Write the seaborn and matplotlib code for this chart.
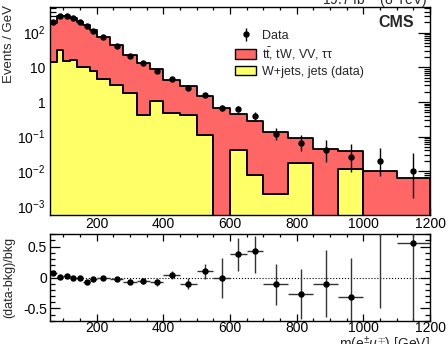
import numpy as np
import pandas as pd
import matplotlib
matplotlib.use("Agg")
import matplotlib.pyplot as plt
import seaborn as sns
from matplotlib.ticker import FixedLocator, MultipleLocator, LogLocator, NullFormatter, FuncFormatter
from matplotlib.patches import Patch

# ---------------- data ----------------
edges = [60, 80, 100, 120, 140, 160, 180, 200, 240, 280, 320, 360, 400, 450,
         500, 550, 600, 650, 700, 775, 850, 925, 1000, 1100, 1200]
# observed events per bin
data_counts = [4140, 6180, 6040, 5180, 4140, 3100, 2280, 2920, 1680, 868, 520, 320,
               225, 130, 80, 34, 31, 20, 9, 5, 3, 2, 2, 1]
data_err_lo = [64, 79, 78, 72, 64, 56, 48, 54, 41, 29.5, 22.8, 17.9, 15, 11.4, 8.9,
               5.8, 5.6, 4.4, 2.9, 2.16, 1.63, 1.29, 1.29, 0.83]
data_err_hi = [65, 79, 78, 73, 65, 56, 48, 55, 42, 30.5, 23.8, 18.9, 16, 12.4, 9.9,
               6.9, 6.6, 5.5, 4.1, 3.38, 2.92, 2.64, 2.64, 2.30]
# total background (events / GeV)
bkg_total = [194, 306, 294, 263, 208, 168, 117.5, 73, 42.7, 23.3, 13.7, 8.7, 4.33,
             2.89, 1.45, 0.684, 0.451, 0.28, 0.134, 0.090, 0.0444, 0.0386, 0.0102, 0.0064]
# W+jets, jets (data) (events / GeV)
wjets = [14.5, 31.6, 15.2, 16.3, 10.4, 10.4, 7.8, 4.5, 3.1, 1.78, 0.41, 1.09, 0.47,
         0.42, 0.112, 0, 0.0412, 0.00785, 0.00218, 0.0177, 0, 0.0117, 0, 0]
ratio_err_lo = [0.02, 0.02, 0.02, 0.02, 0.02, 0.025, 0.03, 0.025, 0.03, 0.04, 0.05,
                0.06, 0.07, 0.09, 0.12, 0.32, 0.27, 0.35, 0.34, 0.41, 0.54, 0.45, 1.45, 1.4]
ratio_err_hi = [0.02, 0.02, 0.02, 0.02, 0.02, 0.025, 0.03, 0.025, 0.03, 0.04, 0.05,
                0.06, 0.07, 0.09, 0.12, 0.32, 0.26, 0.24, 0.32, 0.40, 0.55, 0.62, 2.5, 3.0]

lab_tt = r"t$\mathregular{\bar{t}}$, tW, VV, ττ"
lab_wj = "W+jets, jets (data)"
xlabel = r"m(e$^{\pm}\mu^{\mp}$) [GeV]"
ylabel = "Events / GeV"
rlabel = "(data-bkg)/bkg"

RED = "#ff6666"
YEL = "#ffff66"

# ---------------- derived ----------------
edges_a = np.array(edges, float)
width = np.diff(edges_a)
centers = 0.5 * (edges_a[:-1] + edges_a[1:])
data = np.array(data_counts) / width
d_lo = np.array(data_err_lo) / width
d_hi = np.array(data_err_hi) / width
tot = np.array(bkg_total)
wj = np.array(wjets)
tt = tot - wj
ratio = data / tot - 1

df = pd.DataFrame({
    "m": np.concatenate([centers, centers]),
    "w": np.concatenate([tt, wj]),
    "proc": [lab_tt] * len(centers) + [lab_wj] * len(centers),
})

# ---------------- style ----------------
sns.set_theme(style="ticks")
plt.rcParams["font.family"] = ["Liberation Sans", "DejaVu Sans"]
plt.rcParams["mathtext.fontset"] = "custom"
plt.rcParams["mathtext.rm"] = "Liberation Sans"
plt.rcParams["mathtext.it"] = "Liberation Sans:italic"
plt.rcParams["mathtext.bf"] = "Liberation Sans:bold"
plt.rcParams["axes.linewidth"] = 1.0

fig = plt.figure(figsize=(4.48, 3.44), dpi=100)
ax = fig.add_axes([50 / 448, 1 - 215 / 344, 380 / 448, 207.7 / 344])
ax2 = fig.add_axes([50 / 448, 1 - 320.7 / 344, 380 / 448, 86.4 / 344])

sns.histplot(data=df, x="m", weights="w", hue="proc", hue_order=[lab_tt, lab_wj],
             bins=edges, multiple="stack", element="step", palette={lab_tt: RED, lab_wj: YEL},
             alpha=1, edgecolor="black", linewidth=1.3, legend=False, ax=ax)
ax.set_yscale("log")
eb = ax.errorbar(centers, data, yerr=[d_lo, d_hi], fmt="o", color="black", ms=3.6,
                 elinewidth=1.0, capsize=0, zorder=5)
ax.set_xlim(60, 1200)
ax.set_ylim(5.5e-4, 540)
ax.set_xlabel("")
ax.set_ylabel(ylabel, fontsize=9.5, labelpad=2)
ax.yaxis.set_label_coords(-0.092, 0.823)

ax.yaxis.set_major_locator(FixedLocator([1e-3, 1e-2, 1e-1, 1, 10, 100]))
def yfmt(v, pos):
    e = int(round(np.log10(v)))
    if e == 0:
        return "1"
    if e == 1:
        return "10"
    return r"10$^{%d}$" % e
ax.yaxis.set_major_formatter(FuncFormatter(yfmt))
ax.yaxis.set_minor_locator(LogLocator(base=10, subs=np.arange(2, 10), numticks=30))
ax.yaxis.set_minor_formatter(NullFormatter())
ax.xaxis.set_major_locator(MultipleLocator(200))
ax.xaxis.set_minor_locator(MultipleLocator(50))

for a in (ax, ax2):
    a.tick_params(which="both", direction="in", top=True, right=True, colors="black",
                  labelsize=10, width=0.9)
    a.tick_params(axis="x", which="major", length=5, pad=1.2)
    a.tick_params(axis="x", which="minor", length=2.5)
    for s in a.spines.values():
        s.set_color("black")
        s.set_linewidth(1.0)
ax.tick_params(axis="y", which="major", length=8.5, pad=3.5)
ax.tick_params(axis="y", which="minor", length=4.5)

# legend
handles = [eb, Patch(facecolor=RED, edgecolor="black", linewidth=1.0),
           Patch(facecolor=YEL, edgecolor="black", linewidth=1.0)]
ax.legend(handles, ["Data", lab_tt, lab_wj], loc="upper left",
          bbox_to_anchor=(0.487, 0.892), frameon=False, fontsize=9,
          handlelength=1.7, handleheight=0.8, handletextpad=0.45, labelspacing=0.3,
          borderpad=0, borderaxespad=0)

ax.text(0.958, 0.927, "CMS", transform=ax.transAxes, ha="right", va="center",
        fontsize=11.5, fontweight="bold")
fig.text(427 / 448, 1 - 4.5 / 344, r"19.7 fb$^{-1}$ (8 TeV)", ha="right", va="baseline",
         fontsize=10)

# ratio panel
ax2.axhline(0, ls=":", color="black", lw=0.8, zorder=1)
ax2.errorbar(centers, ratio, yerr=[ratio_err_lo, ratio_err_hi], xerr=width / 2, fmt="o",
             color="black", ecolor="#333333", ms=3.6, elinewidth=1.0, capsize=0, zorder=5)
ax2.set_xlim(60, 1200)
ax2.set_ylim(-0.7, 0.7)
ax2.yaxis.set_major_locator(FixedLocator([-0.5, 0, 0.5]))
ax2.yaxis.set_major_formatter(FuncFormatter(lambda v, p: {-0.5: "-0.5", 0: "0", 0.5: "0.5"}.get(round(v, 1), "")))
ax2.yaxis.set_minor_locator(MultipleLocator(0.1))
ax2.xaxis.set_major_locator(MultipleLocator(200))
ax2.xaxis.set_minor_locator(MultipleLocator(50))
ax2.tick_params(axis="x", which="major", pad=0.3)
ax2.tick_params(axis="y", which="major", length=7, pad=2)
ax2.tick_params(axis="y", which="minor", length=3.5)
ax2.set_ylabel(rlabel, fontsize=9, labelpad=2)
ax2.yaxis.set_label_coords(-0.092, 0.5)
ax2.set_xlabel("")
fig.text(430 / 448, 1 - 349.5 / 344, xlabel, ha="right", va="baseline", fontsize=10)

fig.savefig("out.png", dpi=100)
